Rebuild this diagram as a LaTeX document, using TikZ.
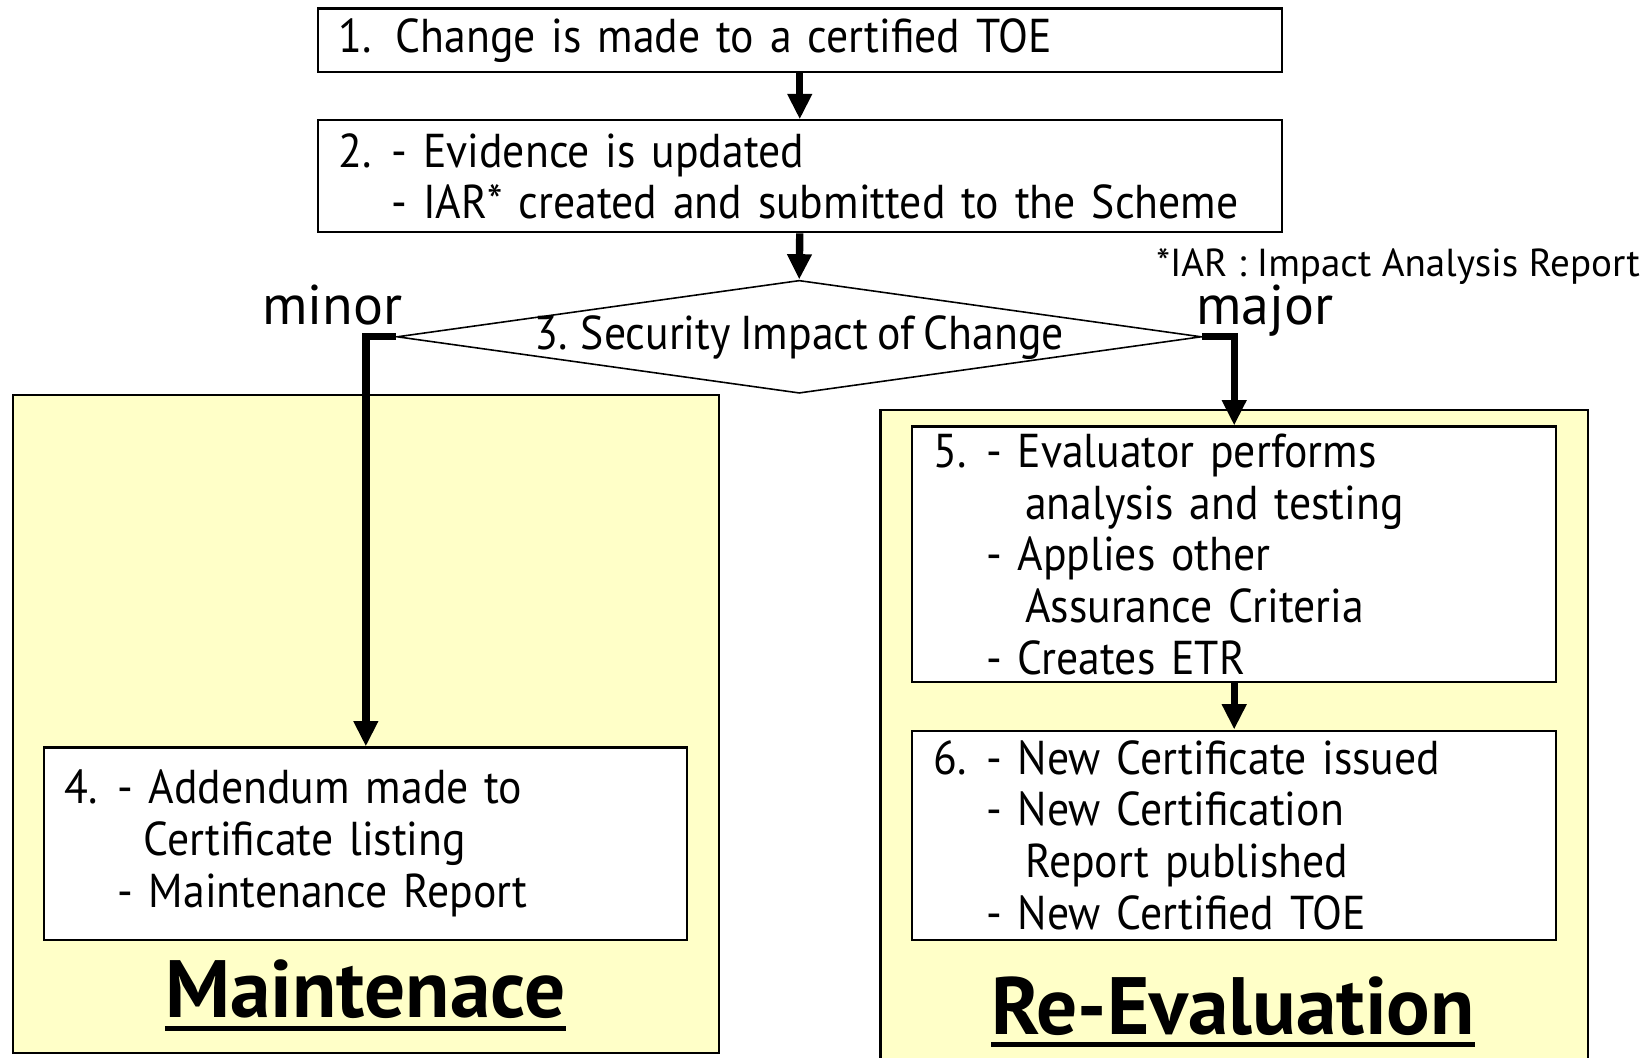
\documentclass[tikz,border=0pt]{standalone}
\usepackage{fontspec}
\setmainfont{PT Sans}[FakeStretch=0.92,WordSpace=0.8]
\newfontfamily\plainfont{PT Sans}
\usetikzlibrary{arrows.meta,shapes.geometric}
\definecolor{paleyellow}{HTML}{FFFFC8}
\begin{document}
\begin{tikzpicture}[x=1pt,y=-1pt,
  stepbox/.style={draw,line width=2pt,fill=white,anchor=north west,align=left,
    inner ysep=0pt,font=\fontsize{45}{49}\selectfont},
  zone/.style={draw,line width=2pt,fill=paleyellow,anchor=north west,inner sep=0pt},
  arr/.style={line width=7pt,-{Triangle[length=24pt,width=22pt]}},
  lbl/.style={inner sep=0pt,font=\plainfont\fontsize{53}{53}\selectfont},
  heading/.style={inner sep=0pt,anchor=base,font=\plainfont\bfseries\fontsize{77}{77}\selectfont}]
\useasboundingbox (0,0) rectangle (1560,1002);
\begin{scope}
\clip (0,0) rectangle (1560,1002);
\node[zone,minimum width=669,minimum height=623] (lz) at (11,373) {};
\node[zone,minimum width=670,minimum height=680] (rz) at (833,387) {};
\end{scope}
% boxes
\node[stepbox,text width=873,inner xsep=20,minimum height=60] (b1) at (300,7)
  {1. Change is made to a certified TOE};
\node[stepbox,text width=873,inner xsep=20,minimum height=106] (b2) at (300,113)
  {\makebox[50pt][l]{2.}- Evidence is updated\\
   \hspace*{50pt}- IAR* created and submitted to the Scheme};
\node[draw,shape=diamond,line width=1.5pt,fill=white,minimum width=762,minimum height=107,inner sep=0pt] (d) at (757,319) {};
\node[inner sep=0pt,font=\fontsize{45}{49}\selectfont] (dt) at (757,320) {3. Security Impact of Change};
\node[stepbox,text width=571,inner xsep=19,minimum height=182] (b4) at (41,707)
  {\makebox[50pt][l]{4.}- Addendum made to\\
   \hspace*{75pt}Certificate listing\\
   \hspace*{50pt}- Maintenance Report};
\node[stepbox,text width=570,inner xsep=20,minimum height=242] (b5) at (863,403)
  {\makebox[50pt][l]{5.}- Evaluator performs\\
   \hspace*{87pt}analysis and testing\\
   \hspace*{50pt}- Applies other\\
   \hspace*{87pt}Assurance Criteria\\
   \hspace*{50pt}- Creates ETR};
\node[stepbox,text width=570,inner xsep=20,minimum height=198] (b6) at (863,691)
  {\makebox[50pt][l]{6.}- New Certificate issued\\
   \hspace*{50pt}- New Certification\\
   \hspace*{87pt}Report published\\
   \hspace*{50pt}- New Certified TOE};
% labels
\node[inner sep=0pt,anchor=base west,font=\plainfont\fontsize{37}{37}\selectfont] (note) at (1095,262) {*IAR : Impact Analysis Report};
\node[lbl,anchor=base] (minor) at (315,307) {minor};
\node[lbl,anchor=base] (major) at (1198,307) {major};
\node[heading] (mt) at (346,964) {Maintenace};
\node[heading] (rt) at (1168,980) {Re-Evaluation};
\draw[line width=5pt] ([yshift=-10pt]mt.base west) -- ([yshift=-10pt]mt.base east);
\draw[line width=5pt] ([yshift=-9pt]rt.base west) -- ([yshift=-9pt]rt.base east);
% connectors
\draw[arr] (b1.south) -- (b2.north);
\draw[arr] (b2.south) -- (d.north);
\draw[arr] (d.west) -- (d.west -| b4.north) -- (b4.north);
\draw[arr] (d.east) -- (d.east -| b5.north) -- (b5.north);
\draw[arr] (b5.south) -- (b6.north);
\end{tikzpicture}
\end{document}
